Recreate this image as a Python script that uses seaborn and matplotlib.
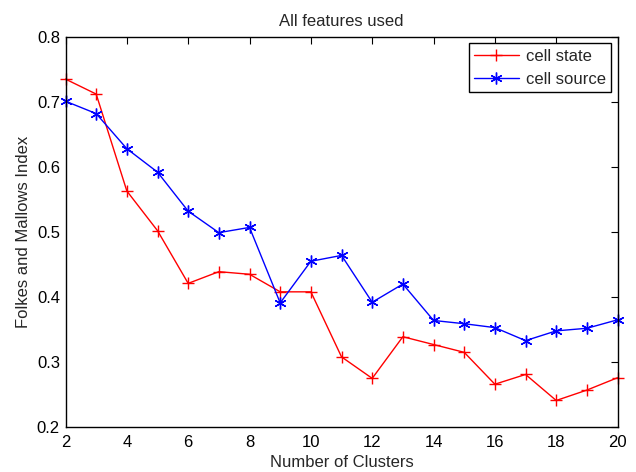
import matplotlib
matplotlib.use('Agg')
import matplotlib.pyplot as plt
import seaborn as sns
import pandas as pd

clusters = list(range(2, 21))
cell_state = [0.735, 0.712, 0.563, 0.502, 0.421, 0.439, 0.435, 0.408, 0.408, 0.308,
              0.275, 0.339, 0.327, 0.315, 0.266, 0.281, 0.241, 0.257, 0.276]
cell_source = [0.701, 0.682, 0.628, 0.592, 0.532, 0.499, 0.507, 0.391, 0.455, 0.464,
               0.392, 0.420, 0.364, 0.359, 0.353, 0.333, 0.348, 0.352, 0.365]

df = pd.DataFrame({'clusters': clusters, 'cell state': cell_state, 'cell source': cell_source})
long = df.melt(id_vars='clusters', var_name='series', value_name='fmi')

sns.set_style('white')
plt.rcParams['font.family'] = ['Liberation Sans', 'DejaVu Sans']

fig = plt.figure(figsize=(6.36, 4.72), dpi=100)
ax = fig.add_axes([0.103, 0.095, 0.868, 0.827])

sns.lineplot(data=long, x='clusters', y='fmi', hue='series', style='series',
             palette={'cell state': 'red', 'cell source': 'blue'},
             markers={'cell state': '+', 'cell source': (6, 2, 0)},
             dashes=False, linewidth=1, markersize=8.5, markeredgewidth=1,
             ax=ax)

# seaborn draws marker edges white; make them match the line colour
for line in ax.lines:
    line.set_markeredgecolor(line.get_color())
    line.set_clip_on(False)

ax.set_xlim(2, 20)
ax.set_ylim(0.2, 0.8)
ax.set_xticks(range(2, 21, 2))
ax.set_yticks([0.2, 0.3, 0.4, 0.5, 0.6, 0.7, 0.8])
ax.set_yticklabels(['0.2', '0.3', '0.4', '0.5', '0.6', '0.7', '0.8'])
ax.tick_params(direction='in', top=True, right=True, length=5, width=0.8,
               labelsize=12, colors='black')
ax.tick_params(axis='x', pad=6)
ax.tick_params(axis='y', pad=4)
for s in ax.spines.values():
    s.set_color('black')
    s.set_linewidth(1)

ax.set_xlabel('Number of Clusters', fontsize=12, labelpad=3)
ax.set_ylabel('Folkes and Mallows Index', fontsize=12, labelpad=4)
ax.set_title('All features used', fontsize=12, pad=8)

leg = ax.legend(loc='upper right', fontsize=12, frameon=True, fancybox=False,
                edgecolor='black', framealpha=1, borderaxespad=0.4,
                handlelength=2.7, handletextpad=0.4, labelspacing=0.5,
                borderpad=0.32)
leg.get_frame().set_linewidth(1)
for h in leg.get_lines():
    h.set_markeredgecolor(h.get_color())

fig.savefig('out.png', dpi=100)
